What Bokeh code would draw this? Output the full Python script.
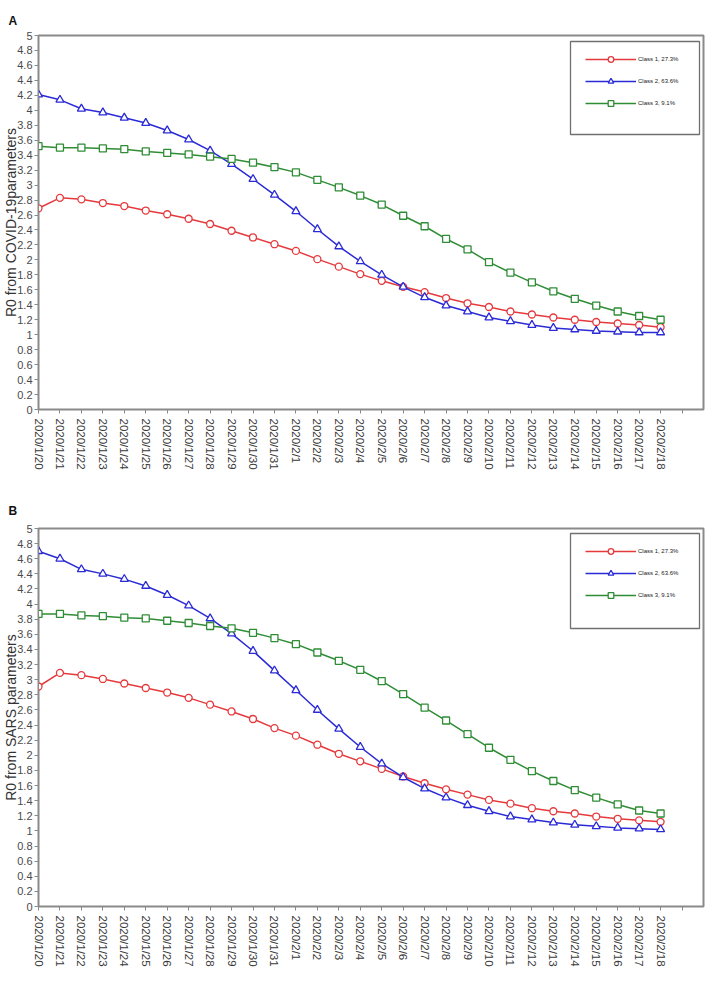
import math
from bokeh.plotting import figure
from bokeh.models import Range1d, FixedTicker, Legend, LegendItem, BoxAnnotation
from bokeh.layouts import column
from bokeh.embed import file_html
from bokeh.resources import INLINE

dates = ["2020/1/20", "2020/1/21", "2020/1/22", "2020/1/23", "2020/1/24", "2020/1/25",
         "2020/1/26", "2020/1/27", "2020/1/28", "2020/1/29", "2020/1/30", "2020/1/31",
         "2020/2/1", "2020/2/2", "2020/2/3", "2020/2/4", "2020/2/5", "2020/2/6",
         "2020/2/7", "2020/2/8", "2020/2/9", "2020/2/10", "2020/2/11", "2020/2/12",
         "2020/2/13", "2020/2/14", "2020/2/15", "2020/2/16", "2020/2/17", "2020/2/18"]

class_labels = ["Class 1, 27.3%", "Class 2, 63.6%", "Class 3, 9.1%"]

covid_class1 = [2.69, 2.83, 2.81, 2.76, 2.72, 2.66, 2.61, 2.55, 2.48, 2.39, 2.30, 2.21, 2.12, 2.01, 1.91,
                1.81, 1.72, 1.64, 1.57, 1.49, 1.42, 1.37, 1.31, 1.27, 1.23, 1.20, 1.17, 1.15, 1.13, 1.10]
covid_class2 = [4.21, 4.14, 4.02, 3.97, 3.90, 3.83, 3.73, 3.61, 3.46, 3.28, 3.08, 2.87, 2.65, 2.41, 2.18,
                1.98, 1.80, 1.64, 1.50, 1.39, 1.31, 1.23, 1.18, 1.13, 1.09, 1.07, 1.05, 1.04, 1.03, 1.03]
covid_class3 = [3.52, 3.50, 3.50, 3.49, 3.48, 3.45, 3.43, 3.41, 3.38, 3.35, 3.30, 3.24, 3.17, 3.07, 2.97,
                2.86, 2.74, 2.59, 2.45, 2.28, 2.14, 1.97, 1.83, 1.70, 1.58, 1.48, 1.39, 1.31, 1.25, 1.20]

sars_class1 = [2.91, 3.09, 3.06, 3.01, 2.95, 2.89, 2.83, 2.76, 2.67, 2.58, 2.48, 2.36, 2.26, 2.14, 2.02,
               1.92, 1.82, 1.72, 1.63, 1.55, 1.48, 1.41, 1.36, 1.30, 1.26, 1.23, 1.19, 1.16, 1.14, 1.12]
sars_class2 = [4.70, 4.60, 4.46, 4.40, 4.33, 4.24, 4.12, 3.98, 3.81, 3.61, 3.38, 3.12, 2.86, 2.60, 2.35,
               2.11, 1.89, 1.71, 1.56, 1.44, 1.34, 1.26, 1.19, 1.15, 1.11, 1.08, 1.06, 1.04, 1.03, 1.02]
sars_class3 = [3.87, 3.87, 3.85, 3.84, 3.82, 3.81, 3.78, 3.75, 3.71, 3.68, 3.62, 3.55, 3.47, 3.36, 3.25,
               3.13, 2.98, 2.81, 2.63, 2.46, 2.28, 2.10, 1.94, 1.79, 1.66, 1.54, 1.44, 1.35, 1.27, 1.23]

y_tick_labels = ["0", "0.2", "0.4", "0.6", "0.8", "1", "1.2", "1.4", "1.6", "1.8", "2", "2.2", "2.4",
                 "2.6", "2.8", "3", "3.2", "3.4", "3.6", "3.8", "4", "4.2", "4.4", "4.6", "4.8", "5"]

COLORS = ["#e53a3d", "#2b2bd6", "#2f8d36"]
MARKERS = ["circle", "triangle", "square"]
SIZES = [7, 8, 7]
FONT = "Liberation Sans"
GRAY = "#8a8a8a"


def make_panel(letter, ytitle, series, height, mb_top, mb_bottom, title_standoff,
               leg_top, box_top, box_bottom):
    n = len(dates)
    xs = list(range(n))
    p = figure(width=708, height=height, x_range=Range1d(0, n + 1), y_range=Range1d(0, 5),
               output_backend="svg", toolbar_location=None,
               min_border_left=35, min_border_right=5,
               min_border_top=mb_top, min_border_bottom=mb_bottom)
    p.grid.visible = False
    p.outline_line_color = GRAY
    p.outline_line_width = 2
    p.background_fill_color = "white"
    p.border_fill_color = "white"

    p.title.text = letter
    p.title.align = "left"
    p.title.offset = -30
    p.title.standoff = title_standoff
    p.title.text_font = FONT
    p.title.text_font_size = "12px"
    p.title.text_font_style = "bold"
    p.title.text_color = "#111111"

    x_ticks = list(range(n + 1))
    overrides = {i: dates[i] for i in range(n)}
    overrides[n] = ""
    xa = p.xaxis[0]
    xa.ticker = FixedTicker(ticks=x_ticks)
    xa.major_label_overrides = overrides
    xa.major_label_orientation = -math.pi / 2
    xa.major_tick_out = 4
    xa.major_tick_in = 0
    xa.minor_tick_out = 0
    xa.minor_tick_in = 0
    xa.major_label_standoff = 5
    xa.axis_line_color = GRAY
    xa.major_tick_line_color = GRAY
    xa.major_label_text_font = FONT
    xa.major_label_text_font_size = "11.5px"
    xa.major_label_text_color = "#3a3a3a"

    y_ticks = [float(s) for s in y_tick_labels]
    ya = p.yaxis[0]
    ya.ticker = FixedTicker(ticks=y_ticks)
    ya.major_label_overrides = {t: s for t, s in zip(y_ticks, y_tick_labels)}
    ya.major_tick_out = 4
    ya.major_tick_in = 0
    ya.minor_tick_out = 0
    ya.minor_tick_in = 0
    ya.major_label_standoff = 2
    ya.axis_line_color = GRAY
    ya.major_tick_line_color = GRAY
    ya.major_label_text_font = FONT
    ya.major_label_text_font_size = "11px"
    ya.major_label_text_color = "#4a4a4a"
    ya.axis_label = ytitle
    ya.axis_label_standoff = -5
    ya.axis_label_text_font = FONT
    ya.axis_label_text_font_size = "14px"
    ya.axis_label_text_font_style = "normal"
    ya.axis_label_text_color = "#333333"

    items = []
    for vals, color, marker, size, lab in zip(series, COLORS, MARKERS, SIZES, class_labels):
        l = p.line(xs, vals, line_color=color, line_width=1.5)
        s = p.scatter(xs, vals, marker=marker, size=size, line_color=color,
                      fill_color="white", line_width=1.3)
        items.append(LegendItem(label=lab, renderers=[l, s]))

    frame_h = height - mb_top - mb_bottom
    leg_h = 2 * 7 + 3 * 14 + 2 * 8
    legend = Legend(items=items, location=(540, frame_h - leg_top - leg_h),
                    orientation="vertical", glyph_width=51, glyph_height=14,
                    label_height=14, label_width=40, spacing=8, padding=7, margin=0,
                    label_standoff=2, border_line_alpha=0,
                    background_fill_color="white", background_fill_alpha=1,
                    label_text_font=FONT, label_text_font_size="6px",
                    label_text_color="#222222")
    p.add_layout(legend)

    box = BoxAnnotation(left=570, right=699, top=box_top, bottom=box_bottom,
                        left_units="canvas", right_units="canvas",
                        top_units="canvas", bottom_units="canvas",
                        fill_alpha=0, line_color="#707070", line_width=1.3, line_alpha=1)
    p.add_layout(box)
    return p


pA = make_panel("A", "R0 from COVID-19parameters", [covid_class1, covid_class2, covid_class3],
                490, 35, 81, 16, 9.5, 41, 134)
pB = make_panel("B", "R0 from SARS parameters", [sars_class1, sars_class2, sars_class3],
                488, 38, 72, 22, 9, 43, 138)

layout = column(pA, pB)
open("out.html", "w").write(file_html(layout, INLINE))
